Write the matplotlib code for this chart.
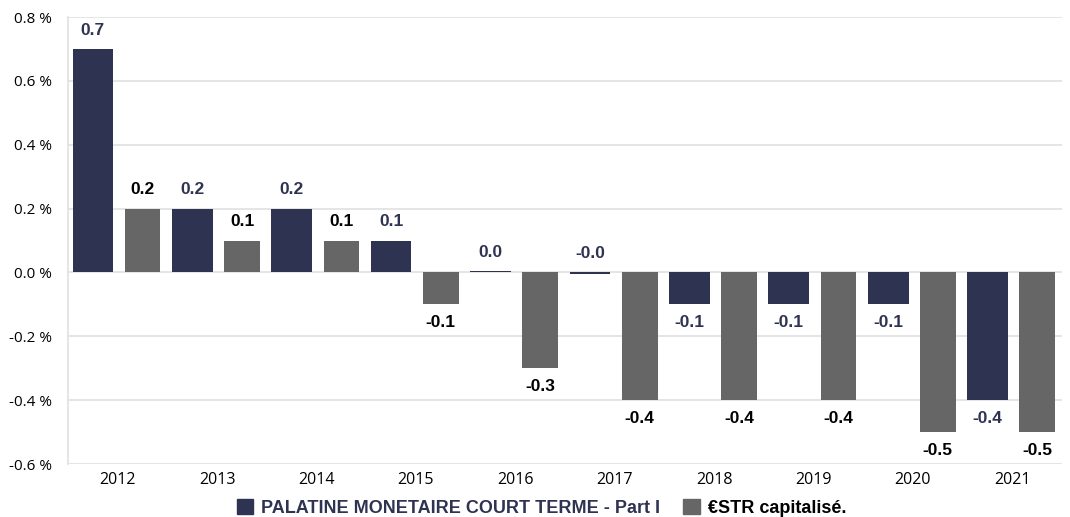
import matplotlib.pyplot as plt
import numpy as np

years = ['2012', '2013', '2014', '2015', '2016', '2017', '2018', '2019', '2020', '2021']
fund = [0.7, 0.2, 0.2, 0.1, 0.004, -0.004, -0.1, -0.1, -0.1, -0.4]
estr = [0.2, 0.1, 0.1, -0.1, -0.3, -0.4, -0.4, -0.4, -0.5, -0.5]
fund_name = 'PALATINE MONETAIRE COURT TERME - Part I'
estr_name = '€STR capitalisé.'

navy = '#2f3352'
grey = '#666666'

fig = plt.figure(figsize=(10.7, 5.17), dpi=100)
ax = fig.add_axes([0.0636, 0.1025, 0.929, 0.8645])

x = np.arange(len(years))
ax.bar(x - 0.25, fund, width=0.41, color=navy, zorder=3)
ax.bar(x + 0.25, estr, width=0.36, color=grey, zorder=3)

# value labels
for xs, vals, col in [(x - 0.25, fund, navy), (x + 0.25, estr, 'black')]:
    for xi, v in zip(xs, vals):
        txt = f'{v:.1f}'
        if v > -0.05:
            ax.annotate(txt, (xi, max(v, 0)), xytext=(0, 8), textcoords='offset points',
                        ha='center', va='bottom', fontsize=12.5, fontweight='bold',
                        color=col, family='Liberation Sans')
        else:
            ax.annotate(txt, (xi, v), xytext=(0, -8), textcoords='offset points',
                        ha='center', va='top', fontsize=12.5, fontweight='bold',
                        color=col, family='Liberation Sans')

ax.set_xlim(-0.5, len(years) - 0.5)
ax.set_ylim(-0.6, 0.8)
ticks = np.arange(-0.6, 0.81, 0.2)
ax.set_yticks(ticks)
ax.set_yticklabels([f'{t:.1f} %' for t in ticks], family='Open Sans', fontsize=11)
ax.set_xticks(x)
ax.set_xticklabels(years, family='Open Sans', fontsize=11.5)
ax.tick_params(axis='y', length=0, pad=11.5)
ax.tick_params(axis='x', length=0, pad=6)

ax.grid(axis='y', color='#e0e0e0', linewidth=1.2, zorder=0)
for s in ['top', 'right', 'bottom']:
    ax.spines[s].set_visible(False)
ax.spines['left'].set_color('#e0e0e0')
ax.spines['left'].set_linewidth(1.2)

handles = [plt.Rectangle((0, 0), 1, 1, color=navy), plt.Rectangle((0, 0), 1, 1, color=grey)]
leg = fig.legend(handles, [fund_name, estr_name], loc='center', bbox_to_anchor=(0.506, 0.018),
                 ncol=2, frameon=False, handlelength=0.9, handleheight=0.9,
                 handletextpad=0.45, columnspacing=1.3,
                 prop={'family': 'Liberation Sans', 'weight': 'bold', 'size': 13})
leg.get_texts()[0].set_color(navy)
leg.get_texts()[1].set_color('black')

fig.savefig('out.png', dpi=100)
